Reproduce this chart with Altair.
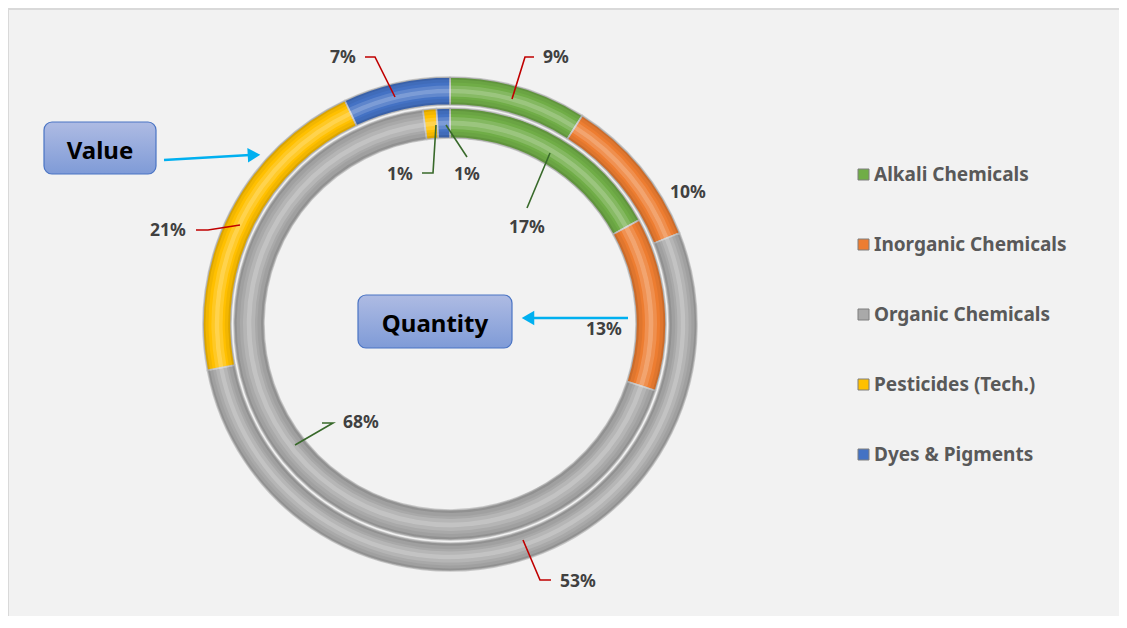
import math
import altair as alt
import pandas as pd

# ---------------- data ----------------
categories = ["Alkali Chemicals", "Inorganic Chemicals", "Organic Chemicals",
              "Pesticides (Tech.)", "Dyes & Pigments"]
value_pct = [9, 10, 53, 21, 7]          # outer ring ("Value")
quantity_pct = [17, 13, 68, 1, 1]       # inner ring ("Quantity")
palette = ["#70ad47", "#ed7d31", "#a9a9a9", "#ffc000", "#4472c4"]

# ---------------- layout (page pixels) ----------------
OFF = 8
W, H = 1111, 608
CX, CY = 450 - OFF, 324 - OFF
RINGS = {"Value": (219, 247), "Quantity": (186, 216)}

label_pos = {
    ("Value", 0): (556, 58), ("Value", 1): (688, 193), ("Value", 2): (578, 582),
    ("Value", 3): (168, 231), ("Value", 4): (343, 58),
    ("Quantity", 0): (527, 228), ("Quantity", 1): (604, 330), ("Quantity", 2): (361, 423),
    ("Quantity", 3): (400, 175), ("Quantity", 4): (467, 175),
}
leaders = [
    ("#c00000", [(534, 57), (525, 57), (512, 99)]),
    ("#c00000", [(365, 57), (375, 57), (395, 97)]),
    ("#c00000", [(196, 230), (208, 230), (240, 225)]),
    ("#c00000", [(551, 580), (540, 580), (523, 540)]),
    ("#38692a", [(527, 208), (550, 153)]),
    ("#38692a", [(422, 173), (433, 173), (436, 125)]),
    ("#38692a", [(467, 157), (446, 125)]),
    ("#38692a", [(322, 423), (333, 423), (295, 445)]),
]
boxes = [("Value", 44, 122, 156, 174, 152), ("Quantity", 358, 295, 512, 348, 325)]
arrows = [
    # line start, line end, head centre, head shape, angle
    ((164, 160), (250, 155), (254, 155), "triangle-right", 357),
    ((628, 318), (530, 318), (528, 318), "triangle-left", 0),
]
# tube shading profile across ring thickness: (from, to, fill, opacity)
bevel = [
    (0.00, 0.10, "black", 0.14), (0.10, 0.22, "black", 0.05),
    (0.30, 0.42, "white", 0.16), (0.42, 0.58, "white", 0.30),
    (0.58, 0.70, "white", 0.14), (0.80, 0.91, "black", 0.05),
    (0.91, 1.00, "black", 0.14),
]

FONT = "Noto Sans"

# ---------------- rings ----------------
rows = []
for i, c in enumerate(categories):
    rows.append(dict(cat=c, idx=i, ring="Value", pct=value_pct[i]))
    rows.append(dict(cat=c, idx=i, ring="Quantity", pct=quantity_pct[i]))
df = pd.DataFrame(rows)

color = alt.Color(
    "cat:N",
    scale=alt.Scale(domain=categories, range=palette),
    sort=categories,
    legend=alt.Legend(
        title=None, orient="none", legendX=854 - OFF, legendY=165 - OFF,
        symbolType="square", symbolSize=121, symbolStrokeColor="#7f7f7f",
        symbolStrokeWidth=1, labelFont=FONT, labelFontSize=19,
        labelFontWeight="bold", labelColor="#595959", labelOffset=1,
        rowPadding=50, padding=0, labelLimit=300,
    ),
)
theta = alt.Theta("t0:Q", stack=None,
                  scale=alt.Scale(domain=[0, 100], range=[0, 2 * math.pi]))
theta2 = alt.Theta2("t1:Q")

stacked = alt.Chart(df).transform_stack(
    stack="pct", groupby=["ring"], sort=[alt.SortField("idx", order="ascending")],
    as_=["t0", "t1"],
)

layers = []
for ring, (r_in, r_out) in RINGS.items():
    b = stacked.transform_filter(alt.datum.ring == ring)
    t = r_out - r_in
    layers.append(b.mark_arc(radius=r_out, radius2=r_in, x=CX, y=CY,
                             stroke="#c8c8c8", strokeWidth=1.6)
                  .encode(theta=theta, theta2=theta2, color=color))
    for f0, f1, fill, op in bevel:
        layers.append(b.mark_arc(radius=r_in + f1 * t, radius2=r_in + f0 * t,
                                 x=CX, y=CY, fill=fill, opacity=op)
                      .encode(theta=theta, theta2=theta2))

# ---------------- percentage labels ----------------
lab_rows = []
for (ring, i), (px, py) in label_pos.items():
    pct = value_pct[i] if ring == "Value" else quantity_pct[i]
    lab_rows.append(dict(txt=f"{pct}%", px=px - OFF, py=py - OFF))
lab_df = pd.DataFrame(lab_rows)
px_x = alt.X("px:Q", scale=None, axis=None)
px_y = alt.Y("py:Q", scale=None, axis=None)

labels = alt.Chart(lab_df).mark_text(
    font=FONT, fontSize=17.5, fontWeight="bold", color="#404040",
    align="center", baseline="middle",
).encode(x=px_x, y=px_y, text="txt:N")

# ---------------- leader lines ----------------
ld_rows = []
for k, (col, pts) in enumerate(leaders):
    for s, (px, py) in enumerate(pts):
        ld_rows.append(dict(lid=k, seq=s, col=col, px=px - OFF, py=py - OFF))
ld_df = pd.DataFrame(ld_rows)
lead = alt.Chart(ld_df).mark_line(strokeWidth=1.6).encode(
    x=px_x, y=px_y, detail="lid:N", order="seq:Q",
    color=alt.Color("col:N", scale=None),
)

# ---------------- annotation boxes ----------------
box_df = pd.DataFrame([
    dict(txt=n, px=x0 - OFF, px2=x1 - OFF, py=y0 - OFF, py2=y1 - OFF,
         cx=(x0 + x1) / 2 - OFF, cy=ty - OFF)
    for n, x0, y0, x1, y1, ty in boxes
])
grad = alt.Gradient(
    gradient="linear",
    stops=[alt.GradientStop(color="#aebbe3", offset=0),
           alt.GradientStop(color="#7f9bd7", offset=1)],
    x1=0, x2=0, y1=0, y2=1,
)
box_rect = alt.Chart(box_df).mark_rect(
    cornerRadius=8, fill=grad, stroke="#4a74c4", strokeWidth=1.2,
).encode(x=px_x, x2="px2:Q", y=px_y, y2="py2:Q")
box_text = alt.Chart(box_df).mark_text(
    font=FONT, fontSize=24, fontWeight="bold", color="#000000",
    align="center", baseline="middle",
).encode(x=alt.X("cx:Q", scale=None, axis=None),
         y=alt.Y("cy:Q", scale=None, axis=None), text="txt:N")

# ---------------- arrows ----------------
ar_rows, head_rows = [], []
for k, (p0, p1, hc, shape, ang) in enumerate(arrows):
    ar_rows.append(dict(aid=k, seq=0, px=p0[0] - OFF, py=p0[1] - OFF))
    ar_rows.append(dict(aid=k, seq=1, px=p1[0] - OFF, py=p1[1] - OFF))
    head_rows.append(dict(px=hc[0] - OFF, py=hc[1] - OFF, shape=shape, ang=ang))
ar_line = alt.Chart(pd.DataFrame(ar_rows)).mark_line(
    color="#00b0f0", strokeWidth=2.5
).encode(x=px_x, y=px_y, detail="aid:N", order="seq:Q")
head_df = pd.DataFrame(head_rows)
heads = []
for _, r in head_df.iterrows():
    heads.append(
        alt.Chart(head_df[head_df["shape"] == r["shape"]]).mark_point(
            shape=r["shape"], filled=True, size=210, color="#00b0f0",
            opacity=1, angle=float(r["ang"]),
        ).encode(x=px_x, y=px_y)
    )

# ---------------- frame ----------------
frame = [
    alt.Chart(pd.DataFrame({"a": [0]})).mark_rule(color="#d9d9d9", strokeWidth=2)
    .encode(x=alt.value(0), y=alt.value(0), y2=alt.value(H)),
    alt.Chart(pd.DataFrame({"a": [0]})).mark_rule(color="#d9d9d9", strokeWidth=2)
    .encode(x=alt.value(0), x2=alt.value(W), y=alt.value(1)),
]

chart = alt.layer(
    *frame, *layers, lead, labels, box_rect, box_text, ar_line, *heads
).resolve_scale(
    theta="shared"
).properties(
    width=W, height=H, padding=0, background="#f2f2f2",
    autosize=alt.AutoSizeParams(type="none"),
).configure_view(stroke=None)

chart.save("out.html", embed_options={"renderer": "svg", "actions": False})
